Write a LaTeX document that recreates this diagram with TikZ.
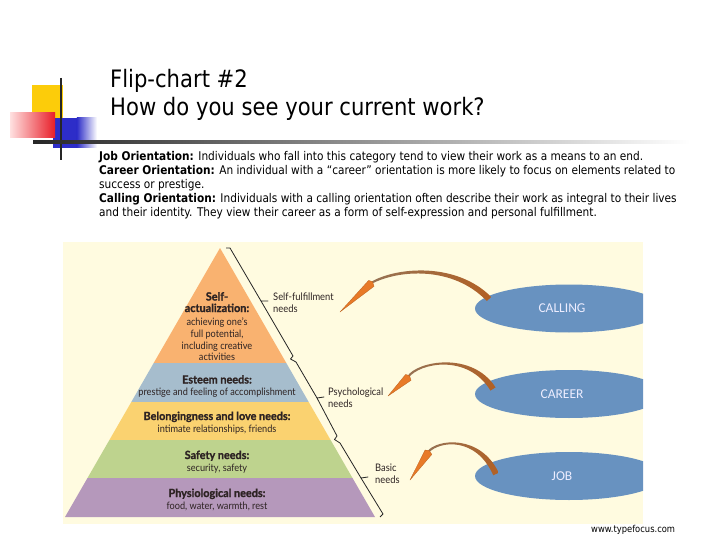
\documentclass[tikz,border=0pt]{standalone}
\usepackage{fontspec}
\setmainfont{DejaVu Sans}
\newfontfamily\tah[FakeStretch=0.88]{DejaVu Sans}
\newfontfamily\pyr[FakeStretch=0.9]{Lato}
\newfontfamily\pyrbold[FakeStretch=0.96,FakeBold=1.2]{Lato Bold}
\newfontfamily\needfont[FakeStretch=0.9]{Lato}
\newfontfamily\calfont{Carlito}
\usetikzlibrary{calc,shapes.geometric}
\definecolor{deyellow}{RGB}{252,204,10}
\definecolor{deblue}{RGB}{45,45,200}
\definecolor{dered}{RGB}{232,30,40}
\definecolor{cream}{RGB}{255,251,224}
\definecolor{lorange}{RGB}{249,178,112}
\definecolor{lblue}{RGB}{166,189,205}
\definecolor{lyellow}{RGB}{250,210,112}
\definecolor{lgreen}{RGB}{190,211,142}
\definecolor{lpurple}{RGB}{181,152,187}
\definecolor{ellblue}{RGB}{104,146,192}
\definecolor{pyrtext}{RGB}{45,35,35}
\definecolor{shaftL}{RGB}{150,115,85}
\definecolor{shaftM}{RGB}{135,130,125}
\definecolor{shaftR}{RGB}{178,96,36}
\definecolor{headcol}{RGB}{232,122,40}
\tikzset{
  bodytxt/.style={anchor=base west, inner sep=0pt, font=\tah\fontsize{12}{14}\selectfont},
  titletxt/.style={anchor=base west, inner sep=0pt, font=\tah\fontsize{24}{28}\selectfont},
  pyrhead/.style={anchor=base, inner sep=0pt, text=pyrtext, font=\pyrbold\fontsize{11.3}{12}\selectfont},
  pyrbody/.style={anchor=base, inner sep=0pt, text=pyrtext, font=\pyr\fontsize{10.2}{11}\selectfont},
  needtxt/.style={anchor=base west, inner sep=0pt, text=pyrtext, font=\needfont\fontsize{10.4}{12}\selectfont},
  ellnode/.style={ellipse, fill=ellblue, minimum width=188pt, minimum height=48pt, inner sep=0pt, text=white!93!blue, font=\calfont\fontsize{13.5}{15}\selectfont},
  shaftshade/.style={left color=shaftL, middle color=shaftM, right color=shaftR},
  bracket/.style={draw=black!85, line width=0.8pt, line join=round}
}
\newcommand{\curvedarrow}[5]{%
  \shade[shaftshade] ($(#2)!1pt!90:(#3)$) .. controls ($(#3)!1.7pt!-90:(#2)$) and ($(#4)!2.5pt!90:(#5)$) .. ($(#5)!3pt!-90:(#4)$)
    -- ($(#5)!3pt!90:(#4)$) .. controls ($(#4)!2.5pt!-90:(#5)$) and ($(#3)!1.7pt!90:(#2)$) .. ($(#2)!1pt!-90:(#3)$) -- cycle;
  \fill[headcol, draw=headcol!80!black, line width=0.3pt, line join=round] (#1) -- ($(#2)!4.5pt!90:(#1)$) -- ($(#2)!2pt!180:(#1)$) -- ($(#2)!3.5pt!-90:(#1)$) -- cycle;
}
\begin{document}
\begin{tikzpicture}[x=1pt,y=-1pt]
\useasboundingbox (0,0) rectangle (720,540);
\fill[white] (0,0) rectangle (720,540);
% decoration
\fill[deyellow] (32,85) rectangle (63,118);
\fill[deblue] (53,118) rectangle (77,148);
\shade[left color=deblue, right color=white] (76.8,118) rectangle (97,148);
\shade[left color=red!12, right color=dered] (10,113) rectangle (55,138);
\draw[line width=2pt, black!85] (61,78) -- (61,160);
\shade[left color=black!85, middle color=black!45, right color=white] (33,140.5) rectangle (690,143.5);
% title
\node[titletxt] (t1) at (110,88) {Flip-chart \#2};
\node[titletxt] (t2) at (110,116) {How do you see your current work?};
% body
\node[bodytxt] (b1) at (99,161) {\textbf{Job Orientation:} Individuals who fall into this category tend to view their work as a means to an end.};
\node[bodytxt] (b2) at (99,175) {\textbf{Career Orientation:} An individual with a “career” orientation is more likely to focus on elements related to};
\node[bodytxt] (b3) at (99,189) {success or prestige.};
\node[bodytxt] (b4) at (99,203) {\textbf{Calling Orientation:} Individuals with a calling orientation often describe their work as integral to their lives};
\node[bodytxt] (b5) at (99,217) {and their identity. They view their career as a form of self-expression and personal fulfillment.};
% picture background
\fill[cream] (63,242) rectangle (643,524);
% pyramid
\fill[lorange] (220,248) -- (286.3,363) -- (153.7,363) -- cycle;
\fill[lblue] (153.7,363) -- (286.3,363) -- (308.7,402) -- (131.3,402) -- cycle;
\fill[lyellow] (131.3,402) -- (308.7,402) -- (330.6,440) -- (109.4,440) -- cycle;
\fill[lgreen] (109.4,440) -- (330.6,440) -- (352.5,478) -- (87.5,478) -- cycle;
\fill[lpurple] (87.5,478) -- (352.5,478) -- (375,517) -- (65,517) -- cycle;
% pyramid texts
\node[pyrhead] (sa1) at (217,300.5) {Self-};
\node[pyrhead] (sa2) at (217,312) {actualization:};
\node[pyrbody] (sa3) at (217,325) {achieving one’s};
\node[pyrbody] (sa4) at (217,337) {full potential,};
\node[pyrbody] (sa5) at (217,349) {including creative};
\node[pyrbody] (sa6) at (217,360.5) {activities};
\node[pyrhead] (es1) at (217,383.5) {Esteem needs:};
\node[pyrbody] (es2) at (217,395.5) {prestige and feeling of accomplishment};
\node[pyrhead] (bl1) at (217,420) {Belongingness and love needs:};
\node[pyrbody] (bl2) at (217,432) {intimate relationships, friends};
\node[pyrhead] (sf1) at (217,459) {Safety needs:};
\node[pyrbody] (sf2) at (217,471) {security, safety};
\node[pyrhead] (ph1) at (217,497) {Physiological needs:};
\node[pyrbody] (ph2) at (217,509) {food, water, warmth, rest};
% bracket
\draw[bracket] (226,248) -- (230,248) -- (261,301) -- (268,301) -- (261,301) -- (293,356) -- (290.5,359) -- (296,362)
  -- (317,398) -- (324,397) -- (317,398) -- (337,436) -- (334.5,439.5) -- (340,443) -- (361,478) -- (368,477) -- (361,478) -- (383,514) -- (380,517);
\node[needtxt] (n1a) at (273,300.5) {Self-fulfillment};
\node[needtxt] (n1b) at (273,312) {needs};
\node[needtxt] (n2a) at (328,395.5) {Psychological};
\node[needtxt] (n2b) at (328,407) {needs};
\node[needtxt] (n3a) at (375,471.5) {Basic};
\node[needtxt] (n3b) at (375,483) {needs};
% ellipses
\begin{scope}
\clip (63,242) rectangle (643,524);
\node[ellnode] (calling) at (569,308.5) {\hspace*{-14pt}CALLING};
\node[ellnode] (career) at (569,394) {\hspace*{-14pt}CAREER};
\node[ellnode] (job) at (569,476) {\hspace*{-14pt}JOB};
\end{scope}
% arrows
\coordinate (a1t) at (340,312);
\coordinate (a1s) at (371,283);
\coordinate (a1c) at (398,268);
\coordinate (a1d) at (455,264);
\coordinate (a1e) at (489,299);
\curvedarrow{a1t}{a1s}{a1c}{a1d}{a1e}
\coordinate (a2t) at (388,396);
\coordinate (a2s) at (408,377);
\coordinate (a2c) at (418,362);
\coordinate (a2d) at (470,352);
\coordinate (a2e) at (493,389);
\curvedarrow{a2t}{a2s}{a2c}{a2d}{a2e}
\coordinate (a3t) at (410,480);
\coordinate (a3s) at (428,452);
\coordinate (a3c) at (438,440);
\coordinate (a3d) at (478,435);
\coordinate (a3e) at (496,474);
\curvedarrow{a3t}{a3s}{a3c}{a3d}{a3e}
% footer
\node[anchor=base west, inner sep=0pt, font=\tah\fontsize{9.5}{11}\selectfont] (web) at (591,532) {www.typefocus.com};
\end{tikzpicture}
\end{document}
